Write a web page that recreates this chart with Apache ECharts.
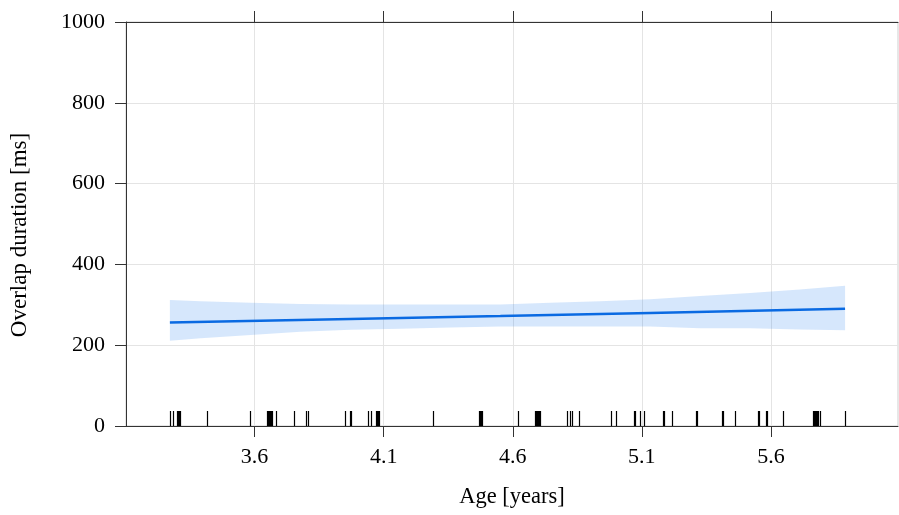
<!DOCTYPE html>
<html>
<head>
<meta charset="utf-8">
<script src="https://cdn.jsdelivr.net/npm/echarts@6/dist/echarts.min.js"></script>
<style>
  html, body { margin: 0; padding: 0; background: #fff; }
  #chart { width: 899px; height: 515px; }
</style>
</head>
<body>
<div id="chart"></div>
<script>
// Fitted overlap duration against age, with its confidence band and a rug of observed ages.
const fitAges = [3.272, 3.971, 4.552, 5.132, 5.887];
const fitValues = [256, 265, 272, 280, 290];

const bandAges = [3.272, 3.391, 3.585, 3.778, 3.971, 4.165, 4.358, 4.552, 4.745, 4.938, 5.132, 5.325, 5.519, 5.712, 5.887];
const bandUpper = [312, 309, 305, 302, 301, 301, 301, 301, 305, 309, 314, 322, 329, 338, 347];
const bandLower = [211, 217, 225, 233, 238, 241, 244, 246, 246, 246, 246, 242, 242, 239, 237];

const rugAges = [
  3.272, 3.283, 3.299, 3.303, 3.307, 3.311, 3.414, 3.583,
  3.648, 3.652, 3.656, 3.660, 3.664, 3.668, 3.684,
  3.752, 3.801, 3.805, 3.950, 3.971, 3.975, 4.041, 4.052,
  4.069, 4.073, 4.077, 4.081, 4.290,
  4.468, 4.472, 4.476, 4.480, 4.620,
  4.685, 4.689, 4.693, 4.697, 4.701, 4.705,
  4.811, 4.821, 4.831, 4.858, 4.981, 4.998,
  5.068, 5.072, 5.091, 5.110, 5.181, 5.185, 5.218, 5.310, 5.314,
  5.409, 5.413, 5.459, 5.550, 5.554, 5.579, 5.583, 5.646,
  5.764, 5.768, 5.772, 5.776, 5.780, 5.784, 5.788, 5.887
];

const xTicks = [3.6, 4.1, 4.6, 5.1, 5.6];
const xMin = 3.102, xMax = 6.092;

const serif = '"Liberation Serif", "DejaVu Serif", serif';
const axisDark = '#333333';
const gridGrey = '#e4e4e4';

const chart = echarts.init(document.getElementById('chart'), null, { renderer: 'canvas' });

chart.setOption({
  animation: false,
  backgroundColor: '#ffffff',
  grid: {
    left: 125, right: 1, top: 22, bottom: 89,
    show: true, borderColor: '#cfcfcf', borderWidth: 1, backgroundColor: 'transparent'
  },
  xAxis: [
    {
      type: 'value', position: 'bottom', min: xMin, max: xMax,
      name: 'Age [years]', nameLocation: 'middle', nameGap: 60,
      nameTextStyle: { fontFamily: serif, fontSize: 22.5, color: '#000' },
      axisLine: { show: true, lineStyle: { color: axisDark, width: 1 } },
      axisTick: { show: true, inside: false, length: 11, customValues: xTicks, lineStyle: { color: axisDark } },
      axisLabel: { customValues: xTicks, margin: 20, fontFamily: serif, fontSize: 22, color: '#000',
                   formatter: v => v.toFixed(1) },
      splitLine: { show: true, lineStyle: { color: gridGrey, width: 1 } }
    },
    {
      type: 'value', position: 'top', min: xMin, max: xMax,
      axisLine: { show: true, lineStyle: { color: axisDark, width: 1 } },
      axisTick: { show: true, inside: false, length: 11, customValues: xTicks, lineStyle: { color: axisDark } },
      axisLabel: { show: false, customValues: xTicks },
      splitLine: { show: false }
    }
  ],
  yAxis: {
    type: 'value', min: 0, max: 1000, interval: 200,
    name: 'Overlap duration [ms]', nameLocation: 'middle', nameGap: 95,
    nameTextStyle: { fontFamily: serif, fontSize: 23, color: '#000', padding: [0, 22, 0, 0] },
    axisLine: { show: true, lineStyle: { color: axisDark, width: 1 } },
    axisTick: { show: true, inside: false, length: 11, lineStyle: { color: axisDark } },
    axisLabel: { margin: 21, fontFamily: serif, fontSize: 22, color: '#000',
                 formatter: v => String(v) },
    splitLine: { show: true, lineStyle: { color: gridGrey, width: 1 } }
  },
  series: [
    {
      // confidence band: one polygon built from the upper edge and the reversed lower edge
      name: 'band', type: 'custom', silent: true, z: 1,
      data: [[bandAges[0], bandLower[0]]],
      encode: { x: 0, y: 1 },
      renderItem: function (params, api) {
        const pts = [];
        for (let i = 0; i < bandAges.length; i++) pts.push(api.coord([bandAges[i], bandUpper[i]]));
        for (let i = bandAges.length - 1; i >= 0; i--) pts.push(api.coord([bandAges[i], bandLower[i]]));
        return {
          type: 'polygon',
          shape: { points: pts },
          style: { fill: 'rgba(30,120,240,0.18)', stroke: null }
        };
      }
    },
    {
      name: 'fit', type: 'line', symbol: 'none',
      data: fitAges.map((a, i) => [a, fitValues[i]]),
      lineStyle: { color: '#0a6ae2', width: 2.5 }, z: 3
    },
    {
      name: 'rug', type: 'custom', silent: true, z: 4,
      data: rugAges.map(a => [a, 0]),
      encode: { x: 0, y: 1 },
      renderItem: function (params, api) {
        const p = api.coord([api.value(0), 0]);
        const x = Math.round(p[0]) + 0.5;
        return {
          type: 'line',
          shape: { x1: x, y1: p[1], x2: x, y2: p[1] - 15 },
          style: { stroke: '#000', lineWidth: 1.2 }
        };
      }
    }
  ]
});
</script>
</body>
</html>
